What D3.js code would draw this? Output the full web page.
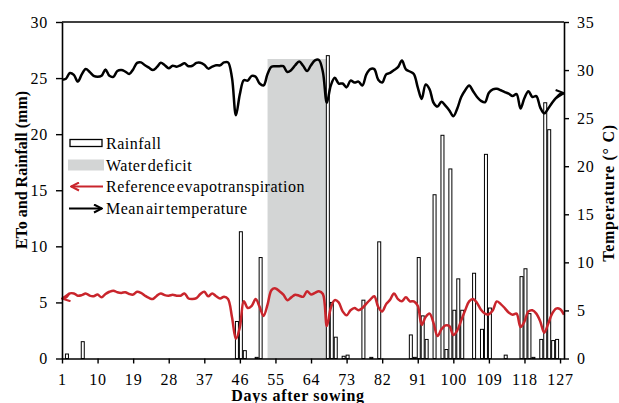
<!DOCTYPE html>
<html>
<head>
<meta charset="utf-8">
<script src="https://cdn.jsdelivr.net/npm/d3@7"></script>
<style>
	body { margin: 0; background: #ffffff; }
	svg text { font-family: "Liberation Serif", "DejaVu Serif", serif; fill: #000000; }
	.axis path, .axis line { stroke: #000000; stroke-width: 1.4; }
	.axis text { font-size: 16px; letter-spacing: 0.8px; }
	.axisTitle { font-size: 16px; font-weight: bold; }
	.legendText { font-size: 16px; letter-spacing: 0.5px; }
</style>
</head>
<body>
<div id="containerChart"></div>
<script>

// days after sowing with rainfall and the amount (mm)
var rainDays = [2, 6, 45, 46, 47, 50, 51, 68, 69, 70, 72, 73, 77, 79, 81, 89, 90, 91, 92, 93,
	95, 97, 98, 99, 100, 101, 102, 105, 107, 108, 109, 113, 117, 118, 119, 120, 122, 123, 124, 125, 126];
var rainfall = [0.4, 1.5, 3.3, 11.3, 0.7, 0.1, 9.0, 27.0, 5.0, 1.9, 0.2, 0.3, 5.2, 0.1, 10.4, 2.1, 0.1, 9.0, 3.8, 1.7,
	14.6, 19.9, 0.8, 16.9, 4.3, 7.1, 4.3, 7.6, 2.6, 18.2, 4.5, 0.3, 7.3, 8.0, 4.0, 0.1, 1.7, 22.8, 20.4, 1.6, 1.7];

// water deficit period (days) and height of the shaded block (mm axis)
var deficitDays = [53, 68];
var deficitTop = 26.7;

// reference evapotranspiration (mm), day 1 .. 128
var eto = [5.35, 5.45, 5.8, 5.8, 5.6, 5.65, 5.8, 5.6, 5.55, 5.7,
	5.45, 5.75, 5.95, 6.05, 5.9, 5.85, 5.9, 5.75, 5.7, 5.95,
	5.85, 5.6, 5.4, 5.3, 5.6, 5.8, 5.65, 5.6, 5.68, 5.6,
	5.6, 5.8, 5.35, 5.3, 5.38, 5.75, 5.95, 5.54, 5.8, 5.55,
	5.35, 5.5, 5.3, 3.7, 1.75, 2.8, 5.1, 4.5, 4.7, 5.3,
	4.6, 3.8, 4.8, 6.1, 6.25, 6.0, 5.69, 5.2, 5.45, 5.69,
	5.6, 5.5, 6.0, 5.7, 5.85, 6.0, 5.75, 2.9, 4.5, 5.2,
	5.0, 4.2, 3.85, 4.3, 4.5, 4.3, 4.5, 4.9, 5.25, 5.55,
	4.6, 4.2, 4.85, 5.24, 5.8, 5.3, 5.1, 5.45, 5.1, 5.09,
	4.7, 3.0, 3.7, 4.0, 3.16, 2.0, 2.6, 2.95, 2.9, 2.1,
	2.5, 3.4, 4.3, 5.1, 5.3, 4.95, 4.35, 4.0, 3.95, 4.3,
	5.09, 4.85, 4.5, 4.1, 3.9, 4.0, 2.8, 3.3, 4.2, 4.3,
	4.0, 3.3, 2.3, 3.1, 4.0, 4.45, 4.4, 3.9];

// mean air temperature (deg C), day 1 .. 128
var temperature = [29.0, 29.1, 29.7, 29.5, 28.8, 29.55, 30.1, 29.8, 29.4, 29.3,
	29.4, 30.05, 29.4, 29.3, 29.9, 30.0, 29.85, 29.6, 30.07, 30.75,
	30.8, 30.5, 30.25, 30.0, 30.3, 30.75, 30.5, 30.2, 30.45, 30.35,
	30.5, 30.7, 30.4, 30.45, 30.75, 30.77, 30.55, 30.15, 30.35, 30.5,
	30.5, 30.8, 30.8, 29.2, 25.3, 27.5, 28.95, 28.9, 29.4, 29.3,
	28.6, 28.4, 29.6, 30.35, 30.4, 30.4, 30.4, 29.8, 30.0, 30.5,
	30.9, 30.45, 29.9, 30.5, 31.0, 31.05, 29.8, 26.6, 28.4, 29.2,
	28.6, 28.6, 28.2, 28.9, 28.7, 28.8, 28.4, 29.55, 30.1, 30.1,
	29.0, 28.7, 29.55, 29.7, 30.0, 30.3, 31.0, 30.07, 29.85, 29.6,
	28.2, 27.0, 28.5, 28.0, 26.6, 26.2, 26.7, 26.3, 25.8, 25.2,
	26.0, 27.2, 27.9, 28.4, 27.8, 27.2, 26.8, 26.65, 27.65, 28.0,
	28.05, 27.9, 27.7, 27.55, 27.3, 27.5, 26.0, 27.1, 27.8, 27.2,
	27.3, 26.1, 25.5, 26.0, 26.6, 27.1, 27.5, 27.6];

// tick labels
var dayTicks = [1, 10, 19, 28, 37, 46, 55, 64, 73, 82, 91, 100, 109, 118, 127];
var leftTicks = [0, 5, 10, 15, 20, 25, 30];
var rightTicks = [0, 5, 10, 15, 20, 25, 30, 35];

var legendLabels = ["Rainfall", "Water deficit", "Reference evapotranspiration", "Mean air temperature"];

// characteristics for SVG element
var width = 619;
var height = 403;
var leftMargin = 62;
var rightEdge = 564;
var topMargin = 22;
var bottomEdge = 358.5;
var barWidth = 3;
var red = "#c9252c";
var grey = "#d3d5d5";
var serif = "'Liberation Serif', 'DejaVu Serif', serif";

var days = d3.range(1, eto.length + 1);

// scales
var scaleX = d3.scaleLinear()
	.domain([1, 128])
	.range([leftMargin, rightEdge]);
var scaleYLeft = d3.scaleLinear()
	.domain([0, 30])
	.range([bottomEdge, topMargin]);
var scaleYRight = d3.scaleLinear()
	.domain([0, 35])
	.range([bottomEdge, topMargin]);

var svg = d3.select("#containerChart")
	.append("svg")
	.attr("width", width)
	.attr("height", height)
	.attr("font-family", serif);

// arrow heads for the lines
var defs = svg.append("defs");
function addArrow(id, colour) {
	defs.append("marker")
		.attr("id", id)
		.attr("markerUnits", "userSpaceOnUse")
		.attr("viewBox", "0 0 10 10")
		.attr("refX", 9)
		.attr("refY", 5)
		.attr("markerWidth", 10)
		.attr("markerHeight", 10)
		.attr("orient", "auto-start-reverse")
		.append("path")
		.attr("d", "M1,1 L9,5 L1,9")
		.attr("fill", "none")
		.attr("stroke", colour)
		.attr("stroke-width", 2);
}
addArrow("arrowBlack", "#000000");
addArrow("arrowRed", red);

// water deficit shading
svg.append("rect")
	.attr("x", scaleX(deficitDays[0]))
	.attr("y", scaleYLeft(deficitTop))
	.attr("width", scaleX(deficitDays[1]) - scaleX(deficitDays[0]))
	.attr("height", bottomEdge - scaleYLeft(deficitTop))
	.style("fill", grey);

// rainfall bars
svg.selectAll(".rainBar")
	.data(rainfall)
	.enter()
	.append("rect")
	.attr("class", "rainBar")
	.attr("x", function(d, i) { return scaleX(rainDays[i]) + 1 - barWidth / 2; })
	.attr("y", function(d) { return scaleYLeft(d); })
	.attr("width", barWidth)
	.attr("height", function(d) { return bottomEdge - scaleYLeft(d); })
	.style("fill", "#ffffff")
	.style("stroke", "#000000")
	.style("stroke-width", 1);

// ETo line on the left axis
var etoLine = d3.line()
	.x(function(d, i) { return scaleX(days[i]); })
	.y(function(d) { return scaleYLeft(d); })
	.curve(d3.curveCatmullRom);
svg.append("path")
	.datum(eto)
	.attr("d", etoLine)
	.attr("fill", "none")
	.attr("stroke", red)
	.attr("stroke-width", 2.5)
	.attr("marker-start", "url(#arrowRed)");

// temperature line on the right axis
var tempLine = d3.line()
	.x(function(d, i) { return scaleX(days[i]); })
	.y(function(d) { return scaleYRight(d); })
	.curve(d3.curveCatmullRom);
svg.append("path")
	.datum(temperature)
	.attr("d", tempLine)
	.attr("fill", "none")
	.attr("stroke", "#000000")
	.attr("stroke-width", 2.5)
	.attr("marker-end", "url(#arrowBlack)");

// axes
var xAxis = d3.axisBottom(scaleX)
	.tickValues(dayTicks)
	.tickSize(5)
	.tickSizeOuter(0)
	.tickPadding(10);
var yAxisLeft = d3.axisLeft(scaleYLeft)
	.tickValues(leftTicks)
	.tickSize(6)
	.tickSizeOuter(0)
	.tickPadding(8);
var yAxisRight = d3.axisRight(scaleYRight)
	.tickValues(rightTicks)
	.tickSize(5)
	.tickSizeOuter(0)
	.tickPadding(8);

svg.append("g")
	.attr("class", "axis")
	.attr("transform", "translate(0," + bottomEdge + ")")
	.call(xAxis);
svg.append("g")
	.attr("class", "axis")
	.attr("transform", "translate(" + leftMargin + ",0)")
	.call(yAxisLeft);
svg.append("g")
	.attr("class", "axis")
	.attr("transform", "translate(" + rightEdge + ",0)")
	.call(yAxisRight);
svg.selectAll(".axis")
	.attr("font-family", serif)
	.attr("font-size", 16);
svg.selectAll(".axis .domain").style("stroke-width", 1.6);

// top border
svg.append("line")
	.attr("x1", leftMargin)
	.attr("x2", rightEdge)
	.attr("y1", topMargin)
	.attr("y2", topMargin)
	.attr("stroke", "#000000")
	.attr("stroke-width", 1.4);

// axis titles
svg.append("text")
	.attr("class", "axisTitle")
	.attr("transform", "translate(298," + 401 + ")")
	.style("text-anchor", "middle")
	.style("letter-spacing", "0.7px")
	.text("Days after sowing");
svg.append("text")
	.attr("class", "axisTitle")
	.attr("transform", "translate(27,170) rotate(-90)")
	.style("text-anchor", "middle")
	.text("ETo and Rainfall (mm)");
svg.append("text")
	.attr("class", "axisTitle")
	.attr("transform", "translate(614,193) rotate(-90)")
	.style("text-anchor", "middle")
	.style("letter-spacing", "0.7px")
	.text("Temperature (\u00b0 C)");

// legend
var legendX = 70;
var legendY = [143, 165, 186.5, 208.5];
var legend = svg.append("g");

legend.append("rect")
	.attr("x", legendX)
	.attr("y", legendY[0] - 3.5)
	.attr("width", 32)
	.attr("height", 7)
	.style("fill", "#ffffff")
	.style("stroke", "#000000")
	.style("stroke-width", 1.3);
legend.append("rect")
	.attr("x", legendX - 2)
	.attr("y", legendY[1] - 5.5)
	.attr("width", 36)
	.attr("height", 11)
	.style("fill", grey);
legend.append("line")
	.attr("x1", legendX + 1)
	.attr("x2", legendX + 33)
	.attr("y1", legendY[2])
	.attr("y2", legendY[2])
	.attr("stroke", red)
	.attr("stroke-width", 2)
	.attr("marker-start", "url(#arrowRed)");
legend.append("line")
	.attr("x1", legendX - 1)
	.attr("x2", legendX + 32)
	.attr("y1", legendY[3])
	.attr("y2", legendY[3])
	.attr("stroke", "#000000")
	.attr("stroke-width", 2)
	.attr("marker-end", "url(#arrowBlack)");

legend.selectAll(".legendText")
	.data(legendLabels)
	.enter()
	.append("text")
	.attr("class", "legendText")
	.attr("x", 106)
	.attr("y", function(d, i) { return legendY[i] + 5.5; })
	.style("word-spacing", "-3px")
	.text(function(d) { return d; });

</script>
</body>
</html>
